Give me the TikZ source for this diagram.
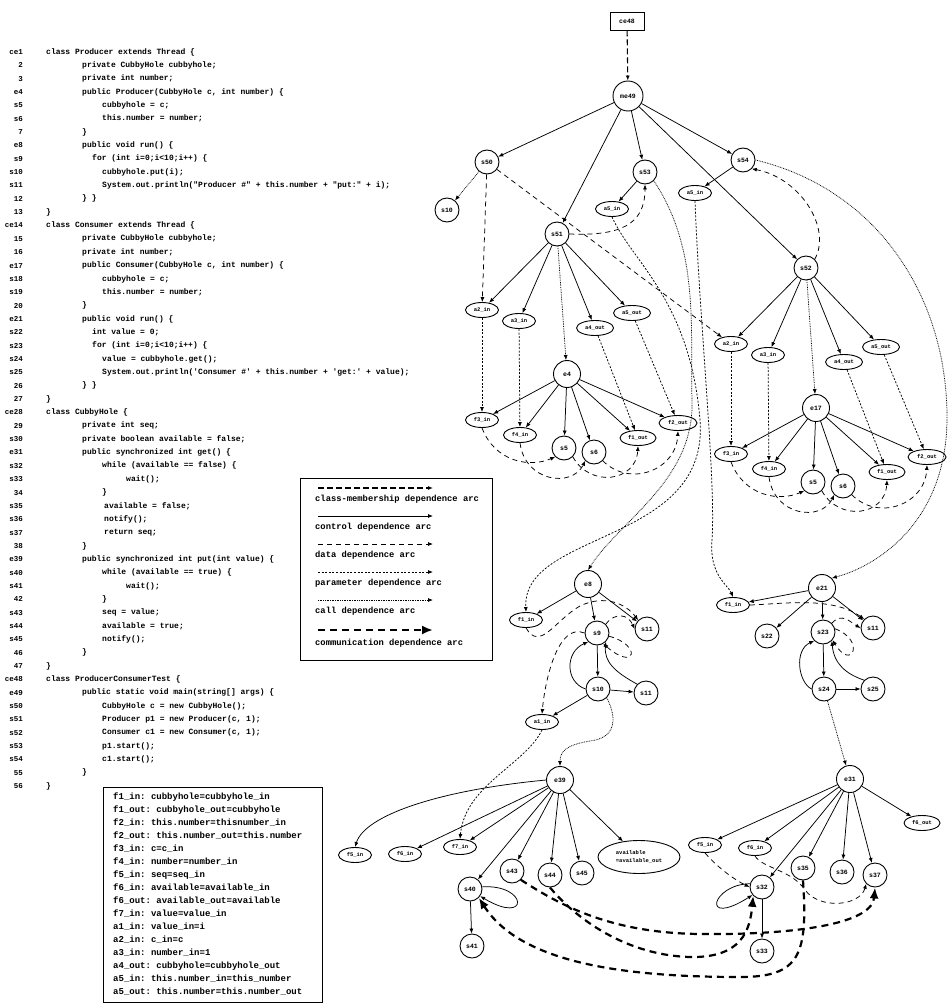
\documentclass[tikz,border=0pt]{standalone}
\usepackage{fontspec}
\setmonofont{Liberation Mono}
\usetikzlibrary{arrows.meta,shapes.geometric}
\newcommand\codeline[4]{%
  \node[lab] (l#1) at (23,{52+(#1-1)*13.35}) {#2};
  \node[code] (c#1) at (#3,{52+(#1-1)*13.35}) {#4};}
\newcommand\defline[2]{%
  \node[boxtext] (d#1) at (113,{797+(#1-1)*13}) {#2};}
\newcommand\paramtree[3]{%
  \node[stm] (#1r) at (557,234) {#2};
  \node[par] (#1a2) at (482,310) {a2\_in};
  \node[par] (#1a3) at (519,321) {a3\_in};
  \node[par,minimum width=37pt] (#1a4) at (595,328) {a4\_out};
  \node[par,minimum width=37pt] (#1a5) at (632,313) {a5\_out};
  \node[ent] (#1e) at (567,374) {#3};
  \node[par] (#1f3) at (482,420) {f3\_in};
  \node[par] (#1f4) at (520,435) {f4\_in};
  \node[stm] (#1s5) at (564,448) {s5};
  \node[stm] (#1s6) at (594,452) {s6};
  \node[par,minimum width=36pt] (#1f1o) at (638,438) {f1\_out};
  \node[par,minimum width=38pt] (#1f2o) at (678,423) {f2\_out};
  \draw[ctrl] (#1r) -- (#1a2);
  \draw[ctrl] (#1r) -- (#1a3);
  \draw[ctrl] (#1r) -- (#1a4);
  \draw[ctrl] (#1r) -- (#1a5);
  \draw[call] (#1r) -- (#1e);
  \draw[ctrl] (#1e) -- (#1f3);
  \draw[ctrl] (#1e) -- (#1f4);
  \draw[ctrl] (#1e) -- (#1s5);
  \draw[ctrl] (#1e) -- (#1s6);
  \draw[ctrl] (#1e) -- (#1f1o);
  \draw[ctrl] (#1e) -- (#1f2o);
  \draw[param] (#1a2) -- (#1f3);
  \draw[param] (#1a3) -- (#1f4);
  \draw[param] (#1a4) -- (#1f1o);
  \draw[param] (#1a5) -- (#1f2o);
  \draw[data] (#1f3.south) .. controls (495,462) and (530,468) .. (#1s5.south west);
  \draw[data] (#1f4.south) .. controls (525,482) and (572,488) .. (#1s6.south west);
  \draw[data] (#1s5.south east) .. controls (590,488) and (636,482) .. (#1f1o.south);
  \draw[data] (#1s6.south east) .. controls (630,488) and (676,470) .. (#1f2o.south);
}
\begin{document}
\begin{tikzpicture}[x=1pt,y=-1pt,
  lab/.style={anchor=east,inner sep=0pt,font=\fontsize{7.5}{8}\selectfont\ttfamily\bfseries},
  code/.style={anchor=west,inner sep=0pt,font=\fontsize{8}{9}\selectfont\ttfamily\bfseries},
  boxtext/.style={anchor=west,inner sep=0pt,font=\fontsize{9}{10}\selectfont\ttfamily\bfseries},
  legtext/.style={anchor=west,inner sep=0pt,font=\fontsize{8.8}{10}\selectfont\ttfamily\bfseries},
  stm/.style={draw,circle,line width=0.9pt,inner sep=0pt,minimum size=24pt,font=\fontsize{6.5}{7}\selectfont\ttfamily\bfseries},
  ent/.style={stm,minimum size=27pt},
  par/.style={draw,ellipse,line width=0.9pt,inner sep=0pt,minimum width=33pt,minimum height=15pt,font=\fontsize{5.5}{6}\selectfont\ttfamily\bfseries},
  ctrl/.style={-{Latex[length=5pt,width=4pt]},line width=0.75pt},
  data/.style={ctrl,dash pattern=on 5pt off 4pt},
  param/.style={ctrl,dash pattern=on 2pt off 1.6pt},
  call/.style={ctrl,dash pattern=on 0.8pt off 0.9pt},
  memb/.style={ctrl,line width=1.1pt,dash pattern=on 6pt off 3pt},
  comm/.style={-{Latex[length=11pt,width=9pt]},line width=2.2pt,dash pattern=on 7pt off 5pt},
]
\useasboundingbox (0,0) rectangle (951,1006);
% ---------------- source code ----------------
\codeline{1}{ce1}{46}{class Producer extends Thread \{}
\codeline{2}{2}{82}{private CubbyHole cubbyhole;}
\codeline{3}{3}{82}{private int number;}
\codeline{4}{e4}{82}{public Producer(CubbyHole c, int number) \{}
\codeline{5}{s5}{102}{cubbyhole = c;}
\codeline{6}{s6}{102}{this.number = number;}
\codeline{7}{7}{82}{\}}
\codeline{8}{e8}{82}{public void run() \{}
\codeline{9}{s9}{92}{for (int i=0;i<10;i++) \{}
\codeline{10}{s10}{102}{cubbyhole.put(i);}
\codeline{11}{s11}{102}{System.out.println("Producer \#" + this.number + "put:" + i);}
\codeline{12}{12}{82}{\} \}}
\codeline{13}{13}{46}{\}}
\codeline{14}{ce14}{46}{class Consumer extends Thread \{}
\codeline{15}{15}{82}{private CubbyHole cubbyhole;}
\codeline{16}{16}{82}{private int number;}
\codeline{17}{e17}{82}{public Consumer(CubbyHole c, int number) \{}
\codeline{18}{s18}{102}{cubbyhole = c;}
\codeline{19}{s19}{102}{this.number = number;}
\codeline{20}{20}{82}{\}}
\codeline{21}{e21}{82}{public void run() \{}
\codeline{22}{s22}{92}{int value = 0;}
\codeline{23}{s23}{92}{for (int i=0;i<10;i++) \{}
\codeline{24}{s24}{102}{value = cubbyhole.get();}
\codeline{25}{s25}{102}{System.out.println('Consumer \#' + this.number + 'get:' + value);}
\codeline{26}{26}{82}{\} \}}
\codeline{27}{27}{46}{\}}
\codeline{28}{ce28}{46}{class CubbyHole \{}
\codeline{29}{29}{82}{private int seq;}
\codeline{30}{s30}{82}{private boolean available = false;}
\codeline{31}{e31}{82}{public synchronized int get() \{}
\codeline{32}{s32}{102}{while (available == false) \{}
\codeline{33}{s33}{126}{wait();}
\codeline{34}{34}{102}{\}}
\codeline{35}{s35}{104}{available = false;}
\codeline{36}{s36}{104}{notify();}
\codeline{37}{s37}{104}{return seq;}
\codeline{38}{38}{82}{\}}
\codeline{39}{e39}{82}{public synchronized int put(int value) \{}
\codeline{40}{s40}{102}{while (available == true) \{}
\codeline{41}{s41}{126}{wait();}
\codeline{42}{42}{102}{\}}
\codeline{43}{s43}{102}{seq = value;}
\codeline{44}{s44}{102}{available = true;}
\codeline{45}{s45}{102}{notify();}
\codeline{46}{46}{82}{\}}
\codeline{47}{47}{46}{\}}
\codeline{48}{ce48}{46}{class ProducerConsumerTest \{}
\codeline{49}{e49}{82}{public static void main(string[] args) \{}
\codeline{50}{s50}{102}{CubbyHole c = new CubbyHole();}
\codeline{51}{s51}{102}{Producer p1 = new Producer(c, 1);}
\codeline{52}{s52}{102}{Consumer c1 = new Consumer(c, 1);}
\codeline{53}{s53}{102}{p1.start();}
\codeline{54}{s54}{102}{c1.start();}
\codeline{55}{55}{82}{\}}
\codeline{56}{56}{46}{\}}
% ---------------- definitions box ----------------
\node[draw,line width=0.8pt,anchor=north west,minimum width=219pt,minimum height=215pt,inner sep=0pt] (defbox) at (103,787) {};
\defline{1}{f1\_in: cubbyhole=cubbyhole\_in}
\defline{2}{f1\_out: cubbyhole\_out=cubbyhole}
\defline{3}{f2\_in: this.number=thisnumber\_in}
\defline{4}{f2\_out: this.number\_out=this.number}
\defline{5}{f3\_in: c=c\_in}
\defline{6}{f4\_in: number=number\_in}
\defline{7}{f5\_in: seq=seq\_in}
\defline{8}{f6\_in: available=available\_in}
\defline{9}{f6\_out: available\_out=available}
\defline{10}{f7\_in: value=value\_in}
\defline{11}{a1\_in: value\_in=i}
\defline{12}{a2\_in: c\_in=c}
\defline{13}{a3\_in: number\_in=1}
\defline{14}{a4\_out: cubbyhole=cubbyhole\_out}
\defline{15}{a5\_in: this.number\_in=this\_number}
\defline{16}{a5\_out: this.number=this.number\_out}
% ---------------- legend ----------------
\node[draw,line width=0.8pt,anchor=north west,minimum width=192pt,minimum height=182pt,inner sep=0pt] (legend) at (300,478) {};
\coordinate (g1a) at (318,488); \coordinate (g1b) at (433,488);
\coordinate (g2a) at (318,516); \coordinate (g2b) at (433,516);
\coordinate (g3a) at (318,544); \coordinate (g3b) at (433,544);
\coordinate (g4a) at (318,572); \coordinate (g4b) at (433,572);
\coordinate (g5a) at (318,600); \coordinate (g5b) at (433,600);
\coordinate (g6a) at (318,630); \coordinate (g6b) at (433,630);
\draw[memb] (g1a) -- (g1b);
\draw[ctrl] (g2a) -- (g2b);
\draw[data] (g3a) -- (g3b);
\draw[param] (g4a) -- (g4b);
\draw[call] (g5a) -- (g5b);
\draw[comm] (g6a) -- (g6b);
\node[legtext] (t1) at (315,499) {class-membership dependence arc};
\node[legtext] (t2) at (315,527) {control dependence arc};
\node[legtext] (t3) at (315,555) {data dependence arc};
\node[legtext] (t4) at (315,583) {parameter dependence arc};
\node[legtext] (t5) at (315,611) {call dependence arc};
\node[legtext] (t6) at (315,643) {communication dependence arc};
% ---------------- top of graph ----------------
\node[draw,line width=0.9pt,minimum width=34pt,minimum height=18pt,inner sep=0pt,font=\fontsize{6.5}{7}\selectfont\ttfamily\bfseries] (ce48) at (627,21) {ce48};
\node[stm,minimum size=30pt] (me49) at (628,96) {me49};
\node[stm] (s50) at (487,162) {s50};
\node[stm] (s53) at (645,172) {s53};
\node[stm] (s54) at (743,160) {s54};
\node[stm] (s10t) at (447,210) {s10};
\node[par] (a5A) at (612,209) {a5\_in};
\node[par] (a5B) at (695,193) {a5\_in};
\paramtree{P}{s51}{e4}
\begin{scope}[shift={(249,34)}]
\paramtree{C}{s52}{e17}
\end{scope}
\draw[memb] (ce48) -- (me49);
\draw[ctrl] (me49) -- (s50);
\draw[ctrl] (me49) -- (Pr);
\draw[ctrl] (me49) -- (s53);
\draw[ctrl] (me49) -- (s54);
\draw[ctrl] (me49) -- (Cr);
\draw[ctrl] (s53) -- (a5A);
\draw[ctrl] (s54) -- (a5B);
\draw[call] (s50) -- (s10t);
\draw[data] (s50) -- (Pa2);
\draw[data] (s50) -- (Ca2);
\draw[data] (Pr.east) .. controls (620,236) and (645,225) .. (s53.south);
\draw[data] (Cr.north east) .. controls (832,228) and (800,178) .. (s54.south east);
% ---------------- run() of Producer ----------------
\node[ent] (e8) at (588,584) {e8};
\node[par] (f1C) at (526,620) {f1\_in};
\node[stm] (s9) at (597,633) {s9};
\node[stm] (s11a) at (647,629) {s11};
\node[stm] (s10) at (598,689) {s10};
\node[stm] (s11b) at (646,693) {s11};
\node[par] (a1) at (542,722) {a1\_in};
\draw[ctrl] (e8) -- (f1C);
\draw[ctrl] (e8) -- (s9);
\draw[ctrl] (e8) -- (s11a);
\draw[ctrl] (s9) -- (s10);
\draw[ctrl] (s10) -- (s11b);
\draw[ctrl] (s10) -- (a1);
\draw[ctrl] (s10.west) .. controls (565,682) and (565,652) .. (s9.south west);
\draw[ctrl] (s11b.north west) .. controls (615,672) and (604,662) .. (s9.south east);
\draw[data] (f1C.south) .. controls (540,652) and (555,620) .. (580,606) .. controls (605,594) and (626,604) .. (s11a.north west);
\draw[data] (s9.west) .. controls (558,622) and (545,680) .. (a1.north);
\draw[data] (s9.north east) .. controls (615,612) and (628,614) .. (s11a.west);
\draw[data] (s9.-15) .. controls (642,645) and (636,672) .. (s9.-60);
% ---------------- run() of Consumer ----------------
\node[ent] (e21) at (822,588) {e21};
\node[par] (f1D) at (733,605) {f1\_in};
\node[stm] (s22) at (767,636) {s22};
\node[stm] (s23) at (823,632) {s23};
\node[stm] (s11c) at (873,628) {s11};
\node[stm] (s24) at (824,689) {s24};
\node[stm] (s25) at (873,689) {s25};
\draw[ctrl] (e21) -- (f1D);
\draw[ctrl] (e21) -- (s22);
\draw[ctrl] (e21) -- (s23);
\draw[ctrl] (e21) -- (s11c);
\draw[ctrl] (s23) -- (s24);
\draw[ctrl] (s24) -- (s25);
\draw[ctrl] (s24.west) .. controls (798,682) and (794,650) .. (s23.south west);
\draw[ctrl] (s25.north west) .. controls (846,674) and (834,664) .. (s23.south east);
\draw[data] (f1D.east) .. controls (782,604) and (832,596) .. (s11c.north west);
\draw[data] (s23.north east) .. controls (842,612) and (850,622) .. (s11c.west);
\draw[data] (s23.15) .. controls (866,640) and (852,672) .. (s23.-40);
% ---------------- put() ----------------
\node[ent] (e39) at (560,780) {e39};
\node[par] (f5E) at (355,855) {f5\_in};
\node[par] (f6E) at (405,854) {f6\_in};
\node[par] (f7) at (460,847) {f7\_in};
\node[stm] (s40) at (470,889) {s40};
\node[stm] (s41) at (472,946) {s41};
\node[stm] (s43) at (512,871) {s43};
\node[stm] (s44) at (550,875) {s44};
\node[stm] (s45) at (582,873) {s45};
\node[draw,ellipse,line width=0.9pt,inner sep=0pt,minimum width=82pt,minimum height=33pt,align=left,font=\fontsize{5.5}{8}\selectfont\ttfamily\bfseries] (avail) at (639,857) {available\\=available\_out};
\draw[ctrl] (e39.west) .. controls (440,790) and (365,815) .. (f5E.north);
\draw[ctrl] (e39) -- (f6E);
\draw[ctrl] (e39) -- (f7);
\draw[ctrl] (e39) -- (s40);
\draw[ctrl] (e39) -- (s43);
\draw[ctrl] (e39) -- (s44);
\draw[ctrl] (e39) -- (s45);
\draw[ctrl] (e39) -- (avail);
\draw[ctrl] (s40) -- (s41);
\draw[ctrl] (s40.10) .. controls (528,884) and (530,926) .. (s40.-35);
% ---------------- get() ----------------
\node[ent] (e31) at (850,779) {e31};
\node[par] (f5F) at (705,845) {f5\_in};
\node[par] (f6F) at (755,848) {f6\_in};
\node[stm] (s32) at (762,887) {s32};
\node[stm] (s33) at (762,951) {s33};
\node[stm] (s35) at (803,868) {s35};
\node[stm] (s36) at (842,872) {s36};
\node[stm] (s37) at (875,875) {s37};
\node[par,minimum width=36pt] (f6o) at (922,823) {f6\_out};
\draw[ctrl] (e31) -- (f5F);
\draw[ctrl] (e31) -- (f6F);
\draw[ctrl] (e31) -- (s32);
\draw[ctrl] (e31) -- (s35);
\draw[ctrl] (e31) -- (s36);
\draw[ctrl] (e31) -- (s37);
\draw[ctrl] (e31) -- (f6o);
\draw[ctrl] (s32) -- (s33);
\draw[ctrl] (s32.165) .. controls (712,884) and (700,928) .. (s32.220);
\draw[data] (f5F.south) .. controls (718,868) and (735,880) .. (s32.west);
\draw[data] (f6F.south) .. controls (762,868) and (792,870) .. (805,890) .. controls (820,910) and (860,906) .. (s37.south west);
% ---------------- inter-procedural arcs ----------------
\draw[call] (s53.south east) .. controls (700,250) and (690,330) .. (692,400) .. controls (695,480) and (620,520) .. (e8.north);
\draw[param] (a5A.south) .. controls (632,262) and (690,300) .. (700,420) .. controls (710,545) and (522,530) .. (f1C.north);
\draw[param] (a5B.south) .. controls (700,330) and (716,480) .. (712,540) .. controls (709,575) and (728,585) .. (f1D.north);
\draw[call] (s54.east) .. controls (880,190) and (948,300) .. (947,420) .. controls (946,520) and (880,565) .. (e21.north east);
\draw[call] (s10.south east) .. controls (618,720) and (615,738) .. (590,741) .. controls (565,745) and (560,752) .. (e39.north);
\draw[call] (s24) -- (e31);
\draw[param] (a1.south) .. controls (525,765) and (465,785) .. (f7.north);
% ---------------- communication arcs ----------------
\draw[comm] (s43.south east) .. controls (560,905) and (610,933) .. (700,934) .. controls (790,935) and (872,925) .. (s37.south);
\draw[comm] (s44.south) .. controls (570,912) and (620,955) .. (690,957) .. controls (742,958) and (750,930) .. (s32.south west);
\draw[comm] (s35.south) .. controls (808,955) and (800,977) .. (740,977) .. controls (620,977) and (520,962) .. (s40.south east);
\end{tikzpicture}
\end{document}
